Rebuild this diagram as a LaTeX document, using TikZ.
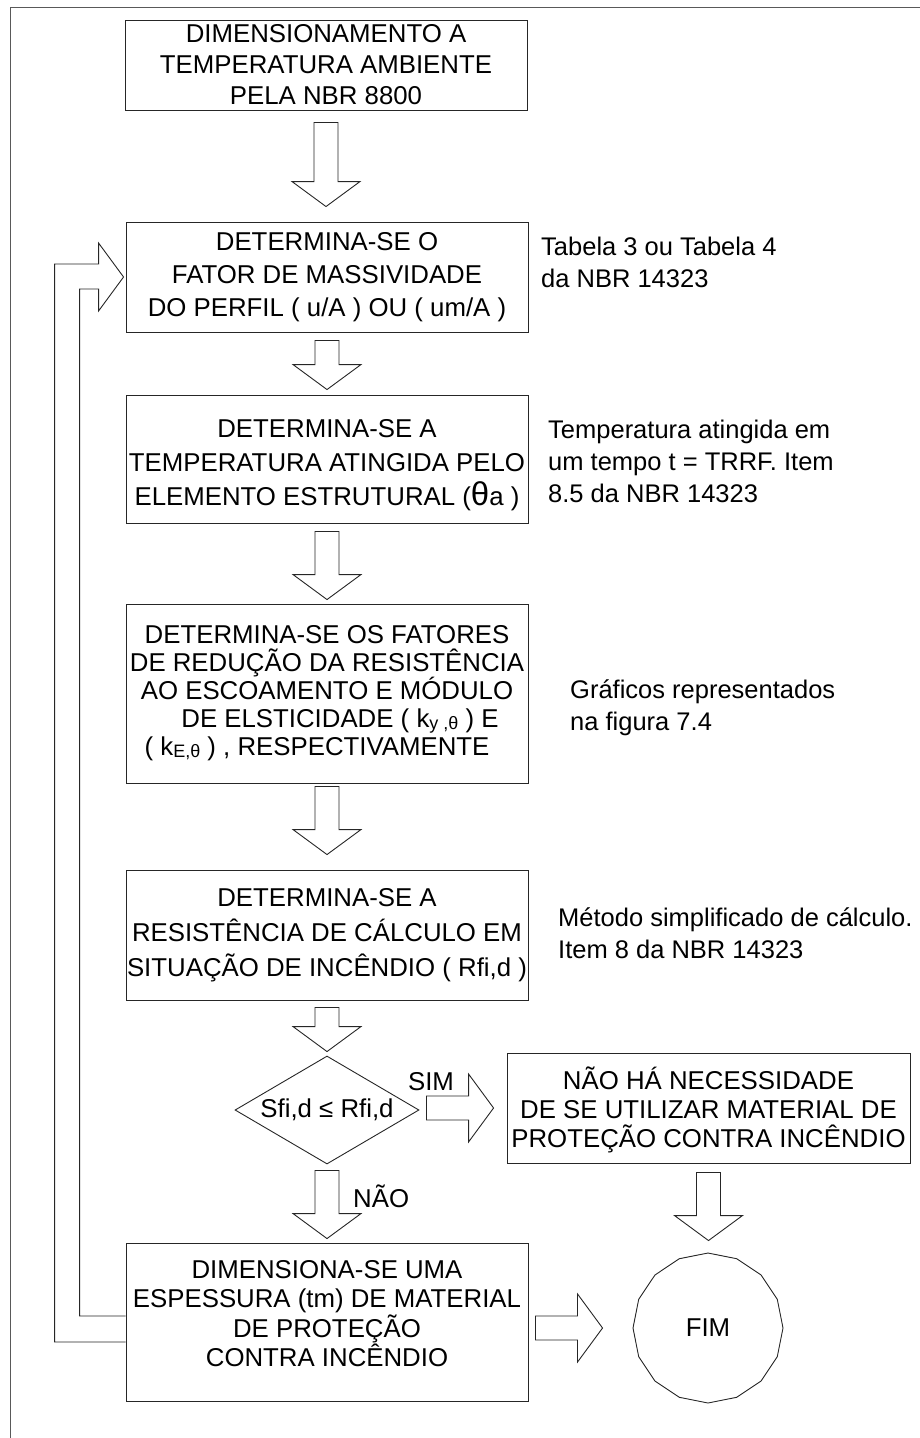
\documentclass[tikz,border=0pt]{standalone}
\usepackage{fontspec}
\setmainfont{Liberation Sans}
\usetikzlibrary{shapes.geometric,calc}
\newcommand\ksub[1]{\raisebox{-1.5pt}{\fontsize{18}{18}\selectfont #1}}
\newcommand\bigth{{\fontsize{33}{33}\selectfont θ}}
\newcommand\topstrut[1]{\rule{0pt}{#1}}
\newcommand\botstrut[1]{\rule[-#1]{0pt}{1pt}}
% down block arrow: from anchor, to anchor, gap below source, gap above target
\newcommand\bdown[4]{\draw[barrow] let \p1=(#1), \p2=(#2) in
 (\x1-12pt,\y1-#3) -- (\x1-12pt,\y2+#4+25pt) -- (\x1-34pt,\y2+#4+25pt) -- (\x1,\y2+#4)
 -- (\x1+34pt,\y2+#4+25pt) -- (\x1+12pt,\y2+#4+25pt) -- (\x1+12pt,\y1-#3) -- cycle;}
% right block arrow
\newcommand\bright[4]{\draw[barrow] let \p1=(#1), \p2=(#2) in
 (\x1+#3,\y2+12pt) -- (\x2-#4-25pt,\y2+12pt) -- (\x2-#4-25pt,\y2+34pt) -- (\x2-#4,\y2)
 -- (\x2-#4-25pt,\y2-34pt) -- (\x2-#4-25pt,\y2-12pt) -- (\x1+#3,\y2-12pt) -- cycle;}
\begin{document}
\begin{tikzpicture}[x=1pt,y=-1pt,line join=miter,
 box/.style={draw=black!85, line width=0.9pt, rectangle, inner sep=0pt, align=center, minimum width=402pt},
 barrow/.style={draw=black!85, line width=0.9pt},
 frame/.style={draw=black!65, line width=1.6pt},
 note/.style={anchor=north west, inner sep=0pt, align=left, font=\fontsize{25.5}{32}\selectfont},
 lbl/.style={inner sep=0pt, font=\fontsize{25.8}{30}\selectfont}]
\useasboundingbox (0,0) rectangle (920,1438);
\draw[frame] (10.5,1438) -- (10.5,7.5) -- (920,7.5);

\node[box, minimum height=90pt, font=\fontsize{25.8}{31}\selectfont] (b1) at (326,65)
 {DIMENSIONAMENTO A\\TEMPERATURA AMBIENTE\\PELA NBR 8800};
\node[box, minimum height=110pt, font=\fontsize{25.8}{33}\selectfont] (b2) at (327,277)
 {DETERMINA-SE O\\FATOR DE MASSIVIDADE\\DO PERFIL ( u/A ) OU ( um/A )};
\node[box, minimum height=128pt, font=\fontsize{25.8}{34}\selectfont] (b3) at (327,459)
 {\topstrut{31pt}DETERMINA-SE A\\TEMPERATURA ATINGIDA PELO\\ELEMENTO ESTRUTURAL (\bigth a )};
\node[box, minimum height=179pt, font=\fontsize{25.8}{28}\selectfont] (b4) at (327,693.5)
 {DETERMINA-SE OS FATORES\\DE REDUÇÃO DA RESISTÊNCIA\\AO ESCOAMENTO E MÓDULO\\\hspace*{26pt}DE ELSTICIDADE ( k\ksub{y ,θ} ) E\\( k\ksub{E,θ} ) , RESPECTIVAMENTE\hspace*{20pt}};
\node[box, minimum height=130pt, font=\fontsize{25.8}{35}\selectfont] (b5) at (327,935)
 {DETERMINA-SE A\\RESISTÊNCIA DE CÁLCULO EM\\SITUAÇÃO DE INCÊNDIO ( Rfi,d )};
\node[draw=black!85, line width=0.9pt, diamond, aspect=1.7, inner sep=0pt, minimum width=184pt, minimum height=108pt,
 font=\fontsize{25.8}{30}\selectfont] (dec) at (327,1110) {Sfi,d ≤ Rfi,d};
\node[box, minimum width=403pt, minimum height=110pt, font=\fontsize{25.8}{29}\selectfont] (rb) at (708.5,1108)
 {\topstrut{27pt}NÃO HÁ NECESSIDADE\\DE SE UTILIZAR MATERIAL DE\\PROTEÇÃO CONTRA INCÊNDIO};
\node[box, minimum height=158pt, font=\fontsize{25.8}{29.5}\selectfont] (b7) at (327,1322)
 {DIMENSIONA-SE UMA\\ESPESSURA (tm) DE MATERIAL\\DE PROTEÇÃO\\CONTRA INCÊNDIO\botstrut{17pt}};
\node[draw=black!85, line width=0.9pt, regular polygon, regular polygon sides=16, shape border rotate=11.25,
 minimum size=150pt, inner sep=0pt, font=\fontsize{25.8}{30}\selectfont] (fim) at (708,1328) {FIM};

\node[note] (n1) at (541,237.2) {Tabela 3 ou Tabela 4\\da NBR 14323};
\node[note] (n2) at (548,420) {Temperatura atingida em\\um tempo t = TRRF. Item\\8.5 da NBR 14323};
\node[note] (n3) at (570,680) {Gráficos representados\\na figura 7.4};
\node[note] (n4) at (558,908) {Método simplificado de cálculo.\\Item 8 da NBR 14323};

\bdown{b1.south}{b2.north}{12pt}{15pt}
\bdown{b2.south}{b3.north}{8pt}{5pt}
\bdown{b3.south}{b4.north}{8pt}{4pt}
\bdown{b4.south}{b5.north}{3pt}{15pt}
\bdown{b5.south}{dec.north}{7pt}{4pt}
\bdown{dec.south}{b7.north}{6pt}{4pt}
\bdown{rb.south}{fim.north}{9pt}{12pt}
\bright{dec.east}{rb.west}{7pt}{13pt}
\bright{b7.east}{fim.west}{7pt}{30pt}

\node[lbl, anchor=base] (sim) at (431,1090) {SIM};
\node[lbl, anchor=base west] (nao) at (353,1207) {NÃO};

\draw[barrow] let \p1=(b7.west), \p2=(b2.west) in
 (\x1,\y1+6pt) -- (\x2-46pt,\y1+6pt) -- (\x2-46pt,\y2-12pt) -- (\x2-27pt,\y2-12pt) -- (\x2-27pt,\y2-34pt)
 -- (\x2-2pt,\y2) -- (\x2-27pt,\y2+34pt) -- (\x2-27pt,\y2+13pt) -- (\x2-71pt,\y2+13pt)
 -- (\x2-71pt,\y1-20pt) -- (\x1,\y1-20pt);
\end{tikzpicture}
\end{document}
